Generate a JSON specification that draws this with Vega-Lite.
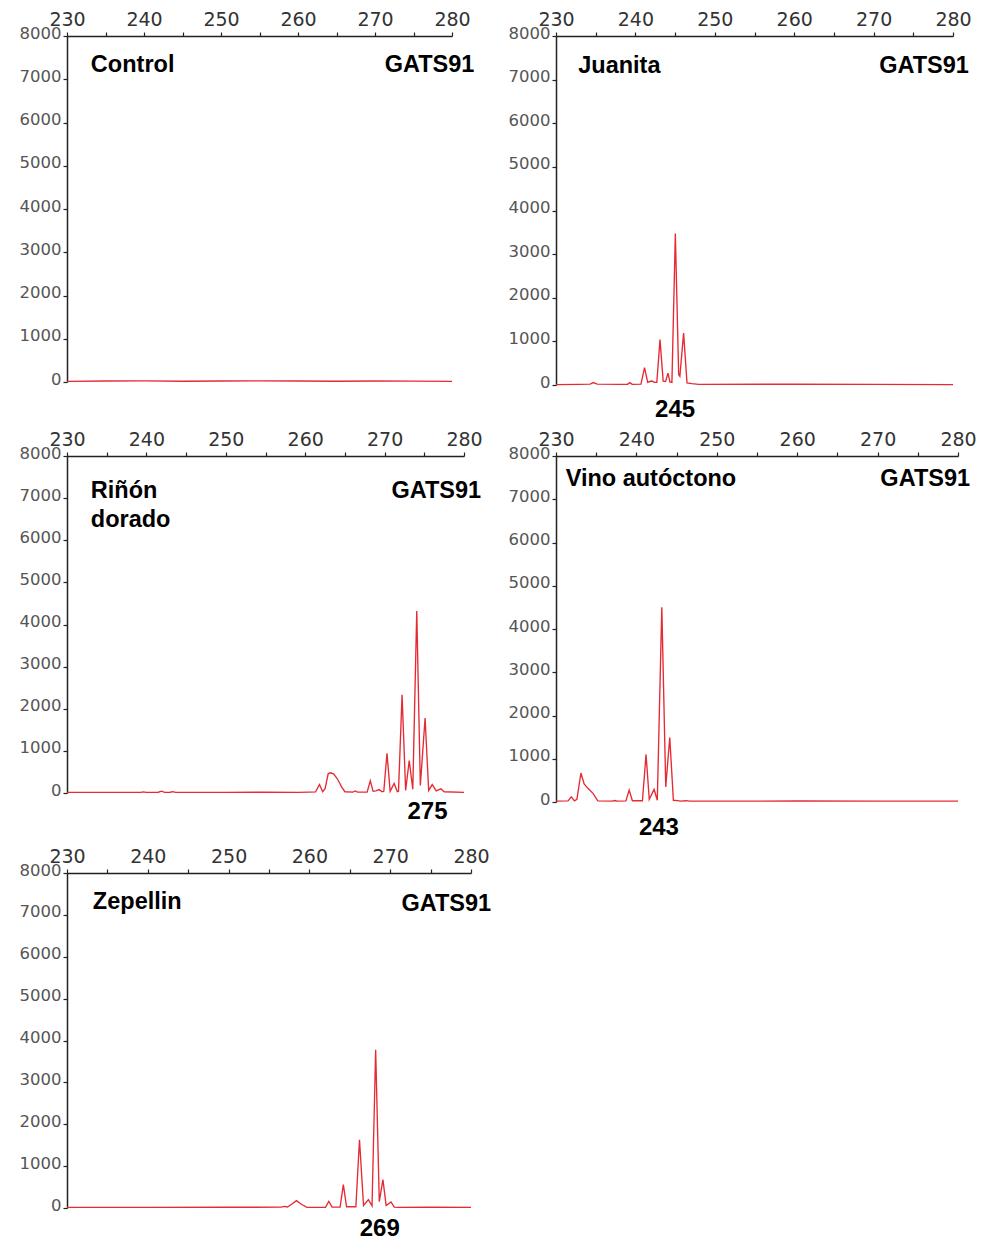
{
  "$schema": "https://vega.github.io/schema/vega-lite/v6.json",
  "background": "white",
  "padding": {"left": 19, "top": 10, "right": 0, "bottom": 0},
  "bounds": "flush",
  "columns": 2,
  "spacing": {"row": 71, "column": 85},
  "config": {
    "view": {"stroke": null},
    "axisX": {"orient": "top", "title": null, "grid": false, "tickSize": 4, "labelPadding": 3, "labelFontSize": 19, "labelFont": "DejaVu Sans", "labelColor": "#333", "domainColor": "#222", "domainWidth": 1.5, "tickColor": "#222", "tickWidth": 1.2, "labelFlush": false, "labelOverlap": false, "values": [230, 235, 240, 245, 250, 255, 260, 265, 270, 275, 280], "labelExpr": "datum.value % 10 === 0 ? datum.label : ''"},
    "axisY": {"title": null, "grid": false, "tickSize": 4, "labelPadding": 2, "labelFontSize": 16.5, "labelFont": "DejaVu Sans", "labelColor": "#555", "labelBaseline": "alphabetic", "labelOffset": 2, "domainColor": "#222", "domainWidth": 1.5, "tickColor": "#222", "tickWidth": 1.2, "labelOverlap": false, "format": "d", "values": [0, 500, 1000, 1500, 2000, 2500, 3000, 3500, 4000, 4500, 5000, 5500, 6000, 6500, 7000, 7500, 8000], "labelExpr": "datum.value % 1000 === 0 ? datum.label : ''"},
    "line": {"color": "#e62a34", "strokeWidth": 1.35},
    "text": {"font": "Liberation Sans", "fontWeight": "bold", "fontSize": 23.5, "color": "#000", "baseline": "alphabetic"}
  },
  "concat": [
    {
      "width": 385, "height": 346,
      "layer": [
        {
          "data": {"values": [{"x": 230, "y": 15}, {"x": 235, "y": 22}, {"x": 240, "y": 25}, {"x": 245, "y": 18}, {"x": 250, "y": 22}, {"x": 255, "y": 25}, {"x": 260, "y": 22}, {"x": 265, "y": 18}, {"x": 270, "y": 22}, {"x": 275, "y": 20}, {"x": 280, "y": 15}]},
          "mark": {"type": "line"},
          "encoding": {
            "x": {"field": "x", "type": "quantitative", "scale": {"domain": [230, 280], "nice": false, "zero": false}},
            "y": {"field": "y", "type": "quantitative", "scale": {"domain": [0, 8000], "nice": false}}
          }
        },
        {"data": {"values": [{}]}, "mark": {"type": "text", "text": "Control", "align": "left"}, "encoding": {"x": {"datum": 233.1}, "y": {"datum": 7175}}},
        {"data": {"values": [{}]}, "mark": {"type": "text", "text": "GATS91", "align": "right"}, "encoding": {"x": {"datum": 282.9}, "y": {"datum": 7175}}}
      ]
    },
    {
      "width": 397, "height": 349,
      "layer": [
        {
          "data": {"values": [
            {"x": 230, "y": 10}, {"x": 233, "y": 15}, {"x": 234.3, "y": 20}, {"x": 234.7, "y": 55}, {"x": 235.2, "y": 20}, {"x": 238, "y": 15}, {"x": 239.0, "y": 15}, {"x": 239.3, "y": 55}, {"x": 239.6, "y": 15}, {"x": 240.7, "y": 20}, {"x": 241.15, "y": 400}, {"x": 241.55, "y": 60}, {"x": 241.8, "y": 80}, {"x": 242.1, "y": 90}, {"x": 242.4, "y": 60}, {"x": 242.7, "y": 60}, {"x": 243.1, "y": 1040}, {"x": 243.5, "y": 90}, {"x": 243.8, "y": 80}, {"x": 244.1, "y": 270}, {"x": 244.35, "y": 70}, {"x": 244.6, "y": 60}, {"x": 245.03, "y": 3470}, {"x": 245.45, "y": 240}, {"x": 245.6, "y": 200}, {"x": 246.07, "y": 1190}, {"x": 246.5, "y": 50}, {"x": 247.1, "y": 30}, {"x": 248, "y": 15}, {"x": 260, "y": 18}, {"x": 270, "y": 15}, {"x": 280, "y": 10}
          ]},
          "mark": {"type": "line"},
          "encoding": {
            "x": {"field": "x", "type": "quantitative", "scale": {"domain": [230, 280], "nice": false, "zero": false}},
            "y": {"field": "y", "type": "quantitative", "scale": {"domain": [0, 8000], "nice": false}}
          }
        },
        {"data": {"values": [{}]}, "mark": {"type": "text", "text": "Juanita", "align": "left"}, "encoding": {"x": {"datum": 232.8}, "y": {"datum": 7149}}},
        {"data": {"values": [{}]}, "mark": {"type": "text", "text": "GATS91", "align": "right"}, "encoding": {"x": {"datum": 282.0}, "y": {"datum": 7149}}},
        {"data": {"values": [{}]}, "mark": {"type": "text", "text": "245", "align": "center", "fontSize": 24}, "encoding": {"x": {"datum": 245.0}, "y": {"datum": -729}}}
      ]
    },
    {
      "width": 397, "height": 337,
      "layer": [
        {
          "data": {"values": [
            {"x": 230, "y": 15}, {"x": 236, "y": 15}, {"x": 239.3, "y": 15}, {"x": 239.6, "y": 28}, {"x": 240.0, "y": 15}, {"x": 241.5, "y": 18}, {"x": 241.9, "y": 45}, {"x": 242.3, "y": 15}, {"x": 243.0, "y": 18}, {"x": 243.3, "y": 32}, {"x": 243.7, "y": 15}, {"x": 250, "y": 15}, {"x": 255, "y": 18}, {"x": 259, "y": 15}, {"x": 260.5, "y": 20}, {"x": 261.3, "y": 25}, {"x": 261.8, "y": 200}, {"x": 262.2, "y": 30}, {"x": 262.5, "y": 100}, {"x": 262.9, "y": 460}, {"x": 263.2, "y": 480}, {"x": 263.6, "y": 450}, {"x": 264.0, "y": 350}, {"x": 264.3, "y": 250}, {"x": 264.6, "y": 140}, {"x": 265.0, "y": 30}, {"x": 266.0, "y": 20}, {"x": 266.3, "y": 50}, {"x": 266.6, "y": 20}, {"x": 267.8, "y": 20}, {"x": 268.2, "y": 290}, {"x": 268.55, "y": 40}, {"x": 268.9, "y": 50}, {"x": 269.3, "y": 80}, {"x": 269.7, "y": 30}, {"x": 269.9, "y": 40}, {"x": 270.3, "y": 945}, {"x": 270.7, "y": 40}, {"x": 271.2, "y": 225}, {"x": 271.6, "y": 30}, {"x": 271.75, "y": 40}, {"x": 272.2, "y": 2330}, {"x": 272.65, "y": 60}, {"x": 273.1, "y": 770}, {"x": 273.55, "y": 90}, {"x": 274.05, "y": 4320}, {"x": 274.5, "y": 180}, {"x": 275.1, "y": 1780}, {"x": 275.55, "y": 60}, {"x": 276.0, "y": 200}, {"x": 276.5, "y": 50}, {"x": 277.1, "y": 100}, {"x": 277.5, "y": 30}, {"x": 280, "y": 15}
          ]},
          "mark": {"type": "line"},
          "encoding": {
            "x": {"field": "x", "type": "quantitative", "scale": {"domain": [230, 280], "nice": false, "zero": false}},
            "y": {"field": "y", "type": "quantitative", "scale": {"domain": [0, 8000], "nice": false}}
          }
        },
        {"data": {"values": [{}]}, "mark": {"type": "text", "text": ["Riñón", "dorado"], "align": "left", "lineHeight": 29}, "encoding": {"x": {"datum": 233.0}, "y": {"datum": 7000}}},
        {"data": {"values": [{}]}, "mark": {"type": "text", "text": "GATS91", "align": "right"}, "encoding": {"x": {"datum": 282.15}, "y": {"datum": 7000}}},
        {"data": {"values": [{}]}, "mark": {"type": "text", "text": "275", "align": "center", "fontSize": 24}, "encoding": {"x": {"datum": 275.4}, "y": {"datum": -608}}}
      ]
    },
    {
      "width": 402, "height": 346,
      "layer": [
        {
          "data": {"values": [
            {"x": 230, "y": 20}, {"x": 231.5, "y": 25}, {"x": 231.9, "y": 120}, {"x": 232.3, "y": 25}, {"x": 232.6, "y": 60}, {"x": 233.1, "y": 670}, {"x": 233.5, "y": 420}, {"x": 234.0, "y": 310}, {"x": 234.6, "y": 200}, {"x": 235.2, "y": 25}, {"x": 237.0, "y": 20}, {"x": 237.3, "y": 35}, {"x": 237.6, "y": 20}, {"x": 238.7, "y": 25}, {"x": 239.1, "y": 275}, {"x": 239.5, "y": 30}, {"x": 240.75, "y": 30}, {"x": 241.2, "y": 1100}, {"x": 241.6, "y": 60}, {"x": 242.2, "y": 290}, {"x": 242.6, "y": 40}, {"x": 243.16, "y": 4500}, {"x": 243.65, "y": 350}, {"x": 244.15, "y": 1490}, {"x": 244.6, "y": 40}, {"x": 245.1, "y": 30}, {"x": 245.5, "y": 20}, {"x": 246.2, "y": 30}, {"x": 246.6, "y": 20}, {"x": 250, "y": 20}, {"x": 260, "y": 22}, {"x": 270, "y": 20}, {"x": 280, "y": 20}
          ]},
          "mark": {"type": "line"},
          "encoding": {
            "x": {"field": "x", "type": "quantitative", "scale": {"domain": [230, 280], "nice": false, "zero": false}},
            "y": {"field": "y", "type": "quantitative", "scale": {"domain": [0, 8000], "nice": false}}
          }
        },
        {"data": {"values": [{}]}, "mark": {"type": "text", "text": "Vino autóctono", "align": "left"}, "encoding": {"x": {"datum": 231.2}, "y": {"datum": 7306}}},
        {"data": {"values": [{}]}, "mark": {"type": "text", "text": "GATS91", "align": "right"}, "encoding": {"x": {"datum": 281.5}, "y": {"datum": 7306}}},
        {"data": {"values": [{}]}, "mark": {"type": "text", "text": "243", "align": "center", "fontSize": 24}, "encoding": {"x": {"datum": 242.8}, "y": {"datum": -756}}}
      ]
    },
    {
      "width": 404, "height": 335,
      "layer": [
        {
          "data": {"values": [
            {"x": 230, "y": 15}, {"x": 240, "y": 15}, {"x": 250, "y": 18}, {"x": 256.5, "y": 20}, {"x": 256.9, "y": 40}, {"x": 257.3, "y": 25}, {"x": 257.8, "y": 90}, {"x": 258.4, "y": 175}, {"x": 259.0, "y": 90}, {"x": 259.7, "y": 15}, {"x": 262.0, "y": 15}, {"x": 262.4, "y": 160}, {"x": 262.8, "y": 20}, {"x": 263.8, "y": 20}, {"x": 264.2, "y": 557}, {"x": 264.6, "y": 30}, {"x": 265.75, "y": 30}, {"x": 266.2, "y": 1630}, {"x": 266.7, "y": 60}, {"x": 267.3, "y": 200}, {"x": 267.75, "y": 50}, {"x": 268.2, "y": 3780}, {"x": 268.65, "y": 150}, {"x": 269.1, "y": 677}, {"x": 269.5, "y": 60}, {"x": 270.1, "y": 143}, {"x": 270.5, "y": 20}, {"x": 271, "y": 15}, {"x": 275, "y": 18}, {"x": 280, "y": 15}
          ]},
          "mark": {"type": "line"},
          "encoding": {
            "x": {"field": "x", "type": "quantitative", "scale": {"domain": [230, 280], "nice": false, "zero": false}},
            "y": {"field": "y", "type": "quantitative", "scale": {"domain": [0, 8000], "nice": false}}
          }
        },
        {"data": {"values": [{}]}, "mark": {"type": "text", "text": "Zepellin", "align": "left"}, "encoding": {"x": {"datum": 233.2}, "y": {"datum": 7133}}},
        {"data": {"values": [{}]}, "mark": {"type": "text", "text": "GATS91", "align": "right"}, "encoding": {"x": {"datum": 282.5}, "y": {"datum": 7100}}},
        {"data": {"values": [{}]}, "mark": {"type": "text", "text": "269", "align": "center", "fontSize": 24}, "encoding": {"x": {"datum": 268.7}, "y": {"datum": -660}}}
      ]
    }
  ]
}
